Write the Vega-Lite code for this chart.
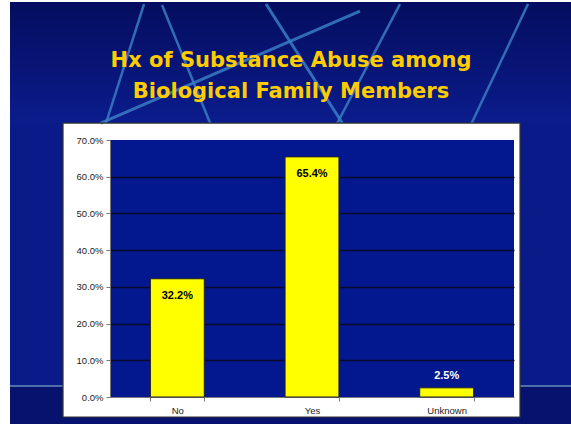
{
  "$schema": "https://vega.github.io/schema/vega-lite/v6.json",
  "width": 404,
  "height": 257,
  "autosize": {"type": "none"},
  "padding": {"left": 110, "top": 140, "right": 57, "bottom": 27},
  "background": "white",
  "config": {
    "view": {"fill": "#03188f", "stroke": null},
    "font": "Liberation Sans"
  },
  "title": {
    "text": ["Hx of Substance Abuse among", "Biological Family Members"],
    "font": "DejaVu Sans",
    "fontWeight": "bold",
    "fontSize": 21,
    "lineHeight": 31,
    "color": "#FFCC00",
    "anchor": "middle",
    "frame": "group",
    "baseline": "bottom",
    "offset": -121,
    "dx": -21,
    "zindex": 1
  },
  "data": {
    "values": [
      {"category": "No", "value": 0.322},
      {"category": "Yes", "value": 0.654},
      {"category": "Unknown", "value": 0.025}
    ]
  },
  "resolve": {"scale": {"x": "independent", "y": "independent"}},
  "layer": [
    {
      "data": {"values": [{}]},
      "mark": {"type": "rect", "fill": {"gradient": "linear", "x1": 0, "y1": 0, "x2": 0, "y2": 1, "stops": [{"offset": 0, "color": "#040d5e"}, {"offset": 1, "color": "#0b1c8c"}]}},
      "encoding": {
        "x": {"datum": -0.2475, "type": "quantitative", "scale": {"domain": [0, 1], "nice": false}, "axis": null},
        "x2": {"datum": 1.16},
        "y": {"datum": 1.066, "type": "quantitative", "scale": {"domain": [0, 1], "nice": false}, "axis": null},
        "y2": {"datum": 1.537}
      }
    },
    {
      "data": {"values": [{}]},
      "mark": {"type": "rect", "fill": "#0a1a88"},
      "encoding": {
        "x": {"datum": -0.2475, "type": "quantitative", "scale": {"domain": [0, 1], "nice": false}, "axis": null},
        "x2": {"datum": -0.1163},
        "y": {"datum": 0.0428, "type": "quantitative", "scale": {"domain": [0, 1], "nice": false}, "axis": null},
        "y2": {"datum": 1.066}
      }
    },
    {
      "data": {"values": [{}]},
      "mark": {"type": "rect", "fill": "#0a1a88"},
      "encoding": {
        "x": {"datum": 1.0149, "type": "quantitative", "scale": {"domain": [0, 1], "nice": false}, "axis": null},
        "x2": {"datum": 1.16},
        "y": {"datum": 0.0428, "type": "quantitative", "scale": {"domain": [0, 1], "nice": false}, "axis": null},
        "y2": {"datum": 1.066}
      }
    },
    {
      "data": {"values": [{}]},
      "mark": {"type": "rect", "fill": "#07126e"},
      "encoding": {
        "x": {"datum": -0.2475, "type": "quantitative", "scale": {"domain": [0, 1], "nice": false}, "axis": null},
        "x2": {"datum": -0.1163},
        "y": {"datum": -0.11, "type": "quantitative", "scale": {"domain": [0, 1], "nice": false}, "axis": null},
        "y2": {"datum": 0.0428}
      }
    },
    {
      "data": {"values": [{}]},
      "mark": {"type": "rect", "fill": "#07126e"},
      "encoding": {
        "x": {"datum": 1.0149, "type": "quantitative", "scale": {"domain": [0, 1], "nice": false}, "axis": null},
        "x2": {"datum": 1.16},
        "y": {"datum": -0.11, "type": "quantitative", "scale": {"domain": [0, 1], "nice": false}, "axis": null},
        "y2": {"datum": 0.0428}
      }
    },
    {
      "data": {"values": [{}]},
      "mark": {"type": "rect", "fill": "#07126e"},
      "encoding": {
        "x": {"datum": -0.1163, "type": "quantitative", "scale": {"domain": [0, 1], "nice": false}, "axis": null},
        "x2": {"datum": 1.0149},
        "y": {"datum": -0.11, "type": "quantitative", "scale": {"domain": [0, 1], "nice": false}, "axis": null},
        "y2": {"datum": -0.0778}
      }
    },
    {
      "data": {"values": [{}]},
      "mark": {"type": "rule", "stroke": "#4f6fa8", "strokeWidth": 2},
      "encoding": {
        "x": {"datum": -0.2475, "type": "quantitative", "scale": {"domain": [0, 1], "nice": false}, "axis": null},
        "x2": {"datum": -0.1163},
        "y": {"datum": 0.0428, "type": "quantitative", "scale": {"domain": [0, 1], "nice": false}, "axis": null}
      }
    },
    {
      "data": {"values": [{}]},
      "mark": {"type": "rule", "stroke": "#4f6fa8", "strokeWidth": 2},
      "encoding": {
        "x": {"datum": 1.0149, "type": "quantitative", "scale": {"domain": [0, 1], "nice": false}, "axis": null},
        "x2": {"datum": 1.16},
        "y": {"datum": 0.0428, "type": "quantitative", "scale": {"domain": [0, 1], "nice": false}, "axis": null}
      }
    },
    {
      "data": {"values": [{}]},
      "mark": {"type": "rule", "stroke": "#3a7cc4", "strokeWidth": 2.5, "opacity": 0.85},
      "encoding": {
        "x": {"datum": 0.0842, "type": "quantitative", "scale": {"domain": [0, 1], "nice": false}, "axis": null},
        "x2": {"datum": -0.0099},
        "y": {"datum": 1.529, "type": "quantitative", "scale": {"domain": [0, 1], "nice": false}, "axis": null},
        "y2": {"datum": 1.066}
      }
    },
    {
      "data": {"values": [{}]},
      "mark": {"type": "rule", "stroke": "#3a7cc4", "strokeWidth": 2.5, "opacity": 0.85},
      "encoding": {
        "x": {"datum": 0.1287, "type": "quantitative", "scale": {"domain": [0, 1], "nice": false}, "axis": null},
        "x2": {"datum": 0.2478},
        "y": {"datum": 1.5253, "type": "quantitative", "scale": {"domain": [0, 1], "nice": false}, "axis": null},
        "y2": {"datum": 1.066}
      }
    },
    {
      "data": {"values": [{}]},
      "mark": {"type": "rule", "stroke": "#3a7cc4", "strokeWidth": 3, "opacity": 0.85},
      "encoding": {
        "x": {"datum": -0.0228, "type": "quantitative", "scale": {"domain": [0, 1], "nice": false}, "axis": null},
        "x2": {"datum": 0.6188},
        "y": {"datum": 1.066, "type": "quantitative", "scale": {"domain": [0, 1], "nice": false}, "axis": null},
        "y2": {"datum": 1.5019}
      }
    },
    {
      "data": {"values": [{}]},
      "mark": {"type": "rule", "stroke": "#3a7cc4", "strokeWidth": 3, "opacity": 0.85},
      "encoding": {
        "x": {"datum": 0.3861, "type": "quantitative", "scale": {"domain": [0, 1], "nice": false}, "axis": null},
        "x2": {"datum": 0.575},
        "y": {"datum": 1.529, "type": "quantitative", "scale": {"domain": [0, 1], "nice": false}, "axis": null},
        "y2": {"datum": 1.066}
      }
    },
    {
      "data": {"values": [{}]},
      "mark": {"type": "rule", "stroke": "#3a7cc4", "strokeWidth": 2.5, "opacity": 0.85},
      "encoding": {
        "x": {"datum": 0.7178, "type": "quantitative", "scale": {"domain": [0, 1], "nice": false}, "axis": null},
        "x2": {"datum": 0.5626},
        "y": {"datum": 1.529, "type": "quantitative", "scale": {"domain": [0, 1], "nice": false}, "axis": null},
        "y2": {"datum": 1.066}
      }
    },
    {
      "data": {"values": [{}]},
      "mark": {"type": "rule", "stroke": "#3a7cc4", "strokeWidth": 2.5, "opacity": 0.85},
      "encoding": {
        "x": {"datum": 1.0347, "type": "quantitative", "scale": {"domain": [0, 1], "nice": false}, "axis": null},
        "x2": {"datum": 0.8953},
        "y": {"datum": 1.529, "type": "quantitative", "scale": {"domain": [0, 1], "nice": false}, "axis": null},
        "y2": {"datum": 1.066}
      }
    },
    {
      "data": {"values": [{}]},
      "mark": {"type": "rect", "fill": null, "stroke": "#333333", "strokeWidth": 1.2},
      "encoding": {
        "x": {"datum": -0.1163, "type": "quantitative", "scale": {"domain": [0, 1], "nice": false}, "axis": null},
        "x2": {"datum": 1.0149},
        "y": {"datum": -0.0778, "type": "quantitative", "scale": {"domain": [0, 1], "nice": false}, "axis": null},
        "y2": {"datum": 1.066}
      }
    },
    {
      "encoding": {
        "x": {
          "field": "category",
          "type": "nominal",
          "sort": null,
          "scale": {"paddingInner": 0.6, "paddingOuter": 0.3},
          "axis": {
            "title": null,
            "labelAngle": 0,
            "tickBand": "extent",
            "labelFont": "Liberation Sans",
            "labelFontSize": 9.5,
            "labelColor": "#222222",
            "labelPadding": 4,
            "tickSize": 4,
            "tickColor": "#777777",
            "domainColor": "#777777",
            "grid": false
          }
        },
        "y": {
          "field": "value",
          "type": "quantitative",
          "scale": {"domain": [0, 0.7], "nice": false},
          "axis": {
            "title": null,
            "values": [0, 0.1, 0.2, 0.3, 0.4, 0.5, 0.6, 0.7],
            "format": ".1%",
            "labelFont": "Liberation Sans",
            "labelFontSize": 9.5,
            "labelColor": "#222222",
            "labelPadding": 3,
            "tickSize": 4,
            "tickColor": "#777777",
            "domainColor": "#777777",
            "grid": true,
            "gridColor": {"condition": {"test": "datum.value === 0 || datum.value > 0.69", "value": "rgba(0,0,0,0)"}, "value": "#0a0a2a"},
            "gridWidth": 1.5
          }
        }
      },
      "layer": [
        {"mark": {"type": "bar", "fill": "#FFFF00", "stroke": "#222222", "strokeWidth": 1}},
        {
          "transform": [{"filter": "datum.value >= 0.1"}],
          "mark": {"type": "text", "baseline": "middle", "dy": 17, "fontWeight": "bold", "fontSize": 11, "color": "#000000"},
          "encoding": {"text": {"field": "value", "type": "quantitative", "format": ".1%"}}
        },
        {
          "transform": [{"filter": "datum.value < 0.1"}],
          "mark": {"type": "text", "baseline": "middle", "dy": -12, "fontWeight": "bold", "fontSize": 11, "color": "#ffffff"},
          "encoding": {"text": {"field": "value", "type": "quantitative", "format": ".1%"}}
        }
      ]
    }
  ]
}
